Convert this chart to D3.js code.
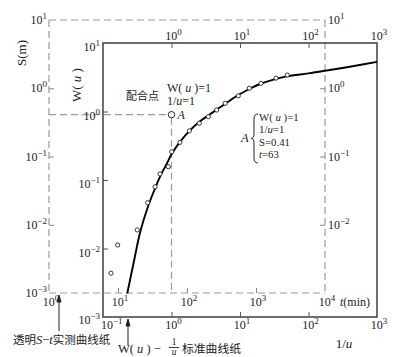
<!DOCTYPE html>
<html><head><meta charset="utf-8">
<script src="https://cdn.jsdelivr.net/npm/d3@7"></script>
<style>
body{margin:0;background:#fff;}
svg text{font-family:"Liberation Serif","DejaVu Serif",serif;fill:#222;}
svg .cjk{font-family:"Noto Sans CJK SC","Noto Sans CJK JP",sans-serif;}
</style></head>
<body>
<script>
// ---- data ----
// Standard curve W(u) vs 1/u
const curveInvU = [0.226,0.28,0.35,0.45,0.574,0.68,0.85,1.02,1.33,1.86,2.61,3.65,5.1,7.14,10,14,19.6,30,48,100,174,400,1000];
const curveW    = [0.0022,0.0062,0.0175,0.040,0.075,0.112,0.172,0.245,0.36,0.53,0.72,0.91,1.15,1.45,1.80,2.15,2.52,2.90,3.25,3.60,3.93,4.5,5.3];
// Observed drawdown S (m) vs time t (min)
const obsT = [7.9,9.9,19,26.9,34.4,40.6,53.6,60,79,108,151,204,269,358,554,800,1180,1950,2840];
const obsS = [0.00195,0.00505,0.0084,0.021,0.036,0.0555,0.071,0.1175,0.161,0.237,0.307,0.383,0.48,0.602,0.774,1.0,1.18,1.41,1.56];
// Tick values
const invUTicks = [0.1,1,10,100,1000];
const wTicks = [0.001,0.01,0.1,1,10];
const tTicks = [1,10,100,1000,10000];
const sTicks = [0.001,0.01,0.1,1,10];
// Match point A
const matchW = 1, matchInvU = 1, matchS = 0.41, matchT = 63;

const W = 397, H = 357;
const svg = d3.select("body").append("svg").attr("width",W).attr("height",H)
  .attr("font-family","Liberation Serif, DejaVu Serif, serif");

// scales
const xW = d3.scaleLog().domain([0.1,1000]).range([103,377]);
const yW = d3.scaleLog().domain([0.001,10]).range([317,43]);
const xT = d3.scaleLog().domain([1,10000]).range([49,325]);
const yS = d3.scaleLog().domain([0.001,10]).range([293,20]);

const exp = v => Math.round(Math.log10(v));
function pow10(g, x, y, v, anchor){
  const e = exp(v);
  const t = g.append("text").attr("x",x).attr("y",y).attr("text-anchor",anchor).attr("font-size",12);
  t.append("tspan").text("10");
  t.append("tspan").attr("dy",-5).attr("font-size",9).text(e<0 ? "\u2212"+(-e) : String(e));
  return t;
}

// ---- dashed (transparent S-t sheet) frame ----
const dash = svg.append("g").attr("stroke","#9a9a9a").attr("stroke-width",1.2).attr("stroke-dasharray","7,4").attr("fill","none");
dash.append("line").attr("x1",xT(1)).attr("x2",xT(1e4)).attr("y1",yS(10)).attr("y2",yS(10));
dash.append("line").attr("x1",xT(1)).attr("x2",xT(1e4)).attr("y1",yS(0.001)).attr("y2",yS(0.001));
dash.append("line").attr("x1",xT(1)).attr("x2",xT(1)).attr("y1",yS(10)).attr("y2",yS(0.001));
dash.append("line").attr("x1",xT(1e4)).attr("x2",xT(1e4)).attr("y1",yS(10)).attr("y2",yS(0.001));
// match lines
const ax = xW(matchInvU), ay = yS(matchS);
dash.append("line").attr("x1",xT(1)).attr("x2",ax-3).attr("y1",ay).attr("y2",ay);
dash.append("line").attr("x1",ax).attr("x2",ax).attr("y1",ay+3).attr("y2",yS(0.001));

// dashed sheet ticks via axes
const tickStyle = g => { g.select(".domain").remove(); g.selectAll("line").attr("stroke","#888"); g.selectAll("text").remove(); };
svg.append("g").attr("transform",`translate(${xT(1)},0)`).call(d3.axisRight(yS).tickValues(sTicks.slice(1,4)).tickSize(5).tickFormat("")).call(tickStyle);
svg.append("g").attr("transform",`translate(${xT(1e4)},0)`).call(d3.axisLeft(yS).tickValues(sTicks.slice(1,4)).tickSize(5).tickFormat("")).call(tickStyle);
svg.append("g").attr("transform",`translate(0,${yS(0.001)})`).call(d3.axisTop(xT).tickValues(tTicks.slice(1,4)).tickSize(5).tickFormat("")).call(tickStyle);

// dashed sheet labels
const lab = svg.append("g");
sTicks.forEach(v => pow10(lab, xT(1)-2, yS(v)+4, v, "end"));
sTicks.slice(1).forEach(v => pow10(lab, xT(1e4)+3, yS(v)+4, v, "start"));
tTicks.forEach(v => pow10(lab, xT(v)+2, yS(0.001)+13, v, "middle"));
const tl = lab.append("text").attr("x",xT(1e4)+15).attr("y",yS(0.001)+13).attr("font-size",12);
tl.append("tspan").attr("font-style","italic").text("t");
tl.append("tspan").text("(min)");

// ---- solid standard-curve frame ----
svg.append("rect").attr("x",xW(0.1)).attr("y",yW(10)).attr("width",xW(1000)-xW(0.1)).attr("height",yW(0.001)-yW(10))
  .attr("fill","none").attr("stroke","#4a4a4a").attr("stroke-width",1.6);
const solidTick = g => { g.select(".domain").remove(); g.selectAll("line").attr("stroke","#555"); g.selectAll("text").remove(); };
svg.append("g").attr("transform",`translate(0,${yW(0.001)})`).call(d3.axisTop(xW).tickValues(invUTicks.slice(1,4)).tickSize(5).tickFormat("")).call(solidTick);
svg.append("g").attr("transform",`translate(0,${yW(10)})`).call(d3.axisBottom(xW).tickValues(invUTicks.slice(1,4)).tickSize(5).tickFormat("")).call(solidTick);
svg.append("g").attr("transform",`translate(${xW(0.1)},0)`).call(d3.axisRight(yW).tickValues(wTicks.slice(1,4)).tickSize(5).tickFormat("")).call(solidTick);

invUTicks.forEach((v,i) => {
  if (i === 0) pow10(lab, xW(v)-2, yW(0.001)+12, v, "start");
  else pow10(lab, xW(v)+2, yW(0.001)+12, v, "middle");
});
invUTicks.slice(1).forEach(v => pow10(lab, xW(v)+2, yW(10)-3, v, "middle"));
wTicks.forEach(v => pow10(lab, xW(0.1)-3, yW(v) + (v === 0.001 ? 7 : 8), v, "end"));

// axis titles
svg.append("text").attr("transform","translate(26,53) rotate(-90)").attr("text-anchor","middle").attr("font-size",13).text("S(m)");
const wt = svg.append("text").attr("transform","translate(81,85) rotate(-90)").attr("text-anchor","middle").attr("font-size",13);
wt.append("tspan").text("W( ");
wt.append("tspan").attr("font-style","italic").text("u");
wt.append("tspan").text(" )");
const ut = svg.append("text").attr("x",344).attr("y",348).attr("text-anchor","middle").attr("font-size",13);
ut.append("tspan").text("1/");
ut.append("tspan").attr("font-style","italic").text("u");

// ---- standard curve ----
const line = d3.line().x(d => xW(d[0])).y(d => yW(d[1])).curve(d3.curveCatmullRom.alpha(0.5));
svg.append("path").datum(curveInvU.map((u,i)=>[u,curveW[i]])).attr("d",line)
  .attr("fill","none").attr("stroke","#000").attr("stroke-width",1.9);

// ---- observed points ----
svg.append("g").selectAll("circle").data(obsT.map((t,i)=>[t,obsS[i]])).join("circle")
  .attr("cx",d=>xT(d[0])).attr("cy",d=>yS(d[1])).attr("r",2.1)
  .attr("fill","#fff").attr("stroke","#222").attr("stroke-width",0.9);

// match point A
svg.append("circle").attr("cx",ax).attr("cy",ay).attr("r",3.2).attr("fill","#fff").attr("stroke","#222").attr("stroke-width",1);
svg.append("text").attr("x",ax+6).attr("y",ay+4.5).attr("font-size",12).attr("font-style","italic").text("A");
svg.append("text").attr("class","cjk").attr("x",126).attr("y",100).attr("font-size",11).text("配合点");
const m1 = svg.append("text").attr("x",167).attr("y",92).attr("font-size",12);
m1.append("tspan").text("W( ");
m1.append("tspan").attr("font-style","italic").text("u");
m1.append("tspan").text(" )=1");
const m2 = svg.append("text").attr("x",167).attr("y",105).attr("font-size",12);
m2.append("tspan").text("1/");
m2.append("tspan").attr("font-style","italic").text("u");
m2.append("tspan").text("=1");

// right annotation with brace
svg.append("text").attr("x",241).attr("y",142).attr("font-size",12.5).attr("font-style","italic").text("A");
svg.append("path").attr("d","M258,114 Q254,114 254,119 L254,134 Q254,138.5 251,138.5 Q254,138.5 254,143 L254,158 Q254,163 258,163")
  .attr("fill","none").attr("stroke","#222").attr("stroke-width",1);
const rx = 259, rs = 12.3, r0 = 121;
const r1 = svg.append("text").attr("x",rx).attr("y",r0).attr("font-size",10.8);
r1.append("tspan").text("W( ");
r1.append("tspan").attr("font-style","italic").text("u");
r1.append("tspan").text(" )=1");
const r2 = svg.append("text").attr("x",rx).attr("y",r0+rs).attr("font-size",10.8);
r2.append("tspan").text("1/");
r2.append("tspan").attr("font-style","italic").text("u");
r2.append("tspan").text("=1");
svg.append("text").attr("x",rx).attr("y",r0+2*rs).attr("font-size",10.8).text("S=0.41");
const r4 = svg.append("text").attr("x",rx).attr("y",r0+3*rs).attr("font-size",10.8);
r4.append("tspan").attr("font-style","italic").text("t");
r4.append("tspan").text("=63");

// ---- bottom captions with arrows ----
const arr = svg.append("g").attr("stroke","#222").attr("stroke-width",1);
arr.append("line").attr("x1",59).attr("x2",59).attr("y1",297).attr("y2",331);
arr.append("path").attr("d","M59,295 L57,302 L61,302 Z").attr("fill","#222");
arr.append("line").attr("x1",128).attr("x2",128).attr("y1",321).attr("y2",345);
arr.append("path").attr("d","M128,319 L126,326 L130,326 Z").attr("fill","#222");

const c1 = svg.append("text").attr("x",13).attr("y",344).attr("font-size",12.5);
c1.append("tspan").attr("class","cjk").attr("font-size",11.5).text("透明");
c1.append("tspan").attr("font-style","italic").text("S");
c1.append("tspan").text("\u2212");
c1.append("tspan").attr("font-style","italic").text("t");
c1.append("tspan").attr("class","cjk").attr("font-size",11.5).text("实测曲线纸");

const c2 = svg.append("text").attr("x",118).attr("y",353).attr("font-size",12.5);
c2.append("tspan").text("W( ");
c2.append("tspan").attr("font-style","italic").text("u");
c2.append("tspan").text(" ) \u2212");
svg.append("text").attr("x",174).attr("y",345).attr("text-anchor","middle").attr("font-size",9.5).text("1");
svg.append("line").attr("x1",169).attr("x2",179).attr("y1",347.5).attr("y2",347.5).attr("stroke","#222").attr("stroke-width",0.9);
svg.append("text").attr("x",174).attr("y",355).attr("text-anchor","middle").attr("font-size",9.5).attr("font-style","italic").text("u");
svg.append("text").attr("class","cjk").attr("x",182).attr("y",353).attr("font-size",11.8).text("标准曲线纸");
</script>
</body></html>
